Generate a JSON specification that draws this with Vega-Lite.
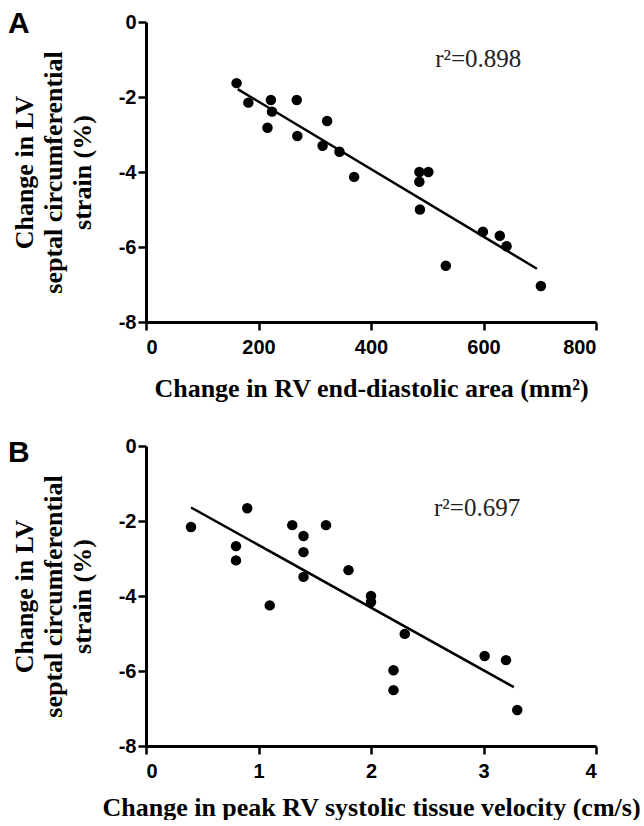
{
  "$schema": "https://vega.github.io/schema/vega-lite/v6.json",
  "background": "white",
  "padding": {"left": 8, "top": 9, "right": 0, "bottom": 0},
  "bounds": "flush",
  "spacing": 124,
  "config": {
    "view": {"stroke": null},
    "axis": {
      "grid": false,
      "domainColor": "black",
      "domainWidth": 3,
      "tickColor": "black",
      "tickWidth": 2.5,
      "tickSize": 8,
      "labelFont": "Liberation Sans",
      "labelFontWeight": "bold",
      "labelFontSize": 20,
      "labelColor": "black",
      "titleFont": "Liberation Serif",
      "titleFontWeight": "bold",
      "titleFontSize": 26,
      "titleColor": "black"
    }
  },
  "datasets": {
    "ptsA": [
      {"x": 161, "y": -1.63}, {"x": 182, "y": -2.15}, {"x": 216, "y": -2.82}, {"x": 222, "y": -2.08},
      {"x": 224, "y": -2.39}, {"x": 268, "y": -2.08}, {"x": 269, "y": -3.04}, {"x": 314, "y": -3.3},
      {"x": 322, "y": -2.64}, {"x": 344, "y": -3.46}, {"x": 370, "y": -4.13}, {"x": 486, "y": -4.0},
      {"x": 502, "y": -4.0}, {"x": 486, "y": -4.26}, {"x": 487, "y": -5.0}, {"x": 533, "y": -6.5},
      {"x": 599, "y": -5.59}, {"x": 629, "y": -5.7}, {"x": 641, "y": -5.98}, {"x": 702, "y": -7.04}
    ],
    "fitA": [{"x": 163, "y": -1.79}, {"x": 695, "y": -6.58}],
    "labA": [{"x": 514, "y": -1.19, "label": "r²=0.898"}],
    "ptsB": [
      {"x": 0.4, "y": -2.16}, {"x": 0.9, "y": -1.66}, {"x": 0.8, "y": -2.67}, {"x": 0.8, "y": -3.05},
      {"x": 1.1, "y": -4.25}, {"x": 1.3, "y": -2.11}, {"x": 1.4, "y": -2.4}, {"x": 1.4, "y": -2.83},
      {"x": 1.4, "y": -3.49}, {"x": 1.6, "y": -2.11}, {"x": 1.8, "y": -3.31}, {"x": 2.0, "y": -4.0},
      {"x": 2.0, "y": -4.16}, {"x": 2.3, "y": -5.01}, {"x": 2.2, "y": -5.98}, {"x": 2.2, "y": -6.51},
      {"x": 3.01, "y": -5.6}, {"x": 3.2, "y": -5.71}, {"x": 3.3, "y": -7.04}
    ],
    "fitB": [{"x": 0.4, "y": -1.64}, {"x": 3.27, "y": -6.43}],
    "labB": [{"x": 2.56, "y": -1.87, "label": "r²=0.697"}]
  },
  "vconcat": [
    {
      "width": 450,
      "height": 300,
      "title": {"text": "A", "anchor": "start", "frame": "group", "dx": -138, "offset": -51, "baseline": "alphabetic", "font": "Liberation Sans", "fontSize": 30, "fontWeight": "bold", "color": "black"},
      "layer": [
        {
          "data": {"name": "ptsA"},
          "mark": {"type": "circle", "size": 110, "color": "black", "opacity": 1},
          "encoding": {
            "x": {"field": "x", "type": "quantitative", "scale": {"domain": [0, 800], "nice": false},
                  "axis": {"values": [0, 200, 400, 600, 800], "title": "Change in RV end-diastolic area (mm²)", "labelPadding": 7, "titlePadding": 18}},
            "y": {"field": "y", "type": "quantitative", "scale": {"domain": [-8, 0], "nice": false},
                  "axis": {"values": [-8, -6, -4, -2, 0], "labelExpr": "datum.value == 0 ? '0' : '-' + abs(datum.value)", "title": ["Change in LV", "septal circumferential", "strain (%)"], "labelPadding": 2, "titlePadding": 23, "titleLineHeight": 29}}
          }
        },
        {
          "data": {"name": "fitA"},
          "mark": {"type": "line", "color": "black", "strokeWidth": 2.5},
          "encoding": {"x": {"field": "x", "type": "quantitative"}, "y": {"field": "y", "type": "quantitative"}}
        },
        {
          "data": {"name": "labA"},
          "mark": {"type": "text", "align": "left", "baseline": "alphabetic", "font": "Liberation Serif", "fontSize": 25, "color": "#222"},
          "encoding": {"x": {"field": "x", "type": "quantitative"}, "y": {"field": "y", "type": "quantitative"}, "text": {"field": "label"}}
        }
      ]
    },
    {
      "width": 450,
      "height": 300,
      "title": {"text": "B", "anchor": "start", "frame": "group", "dx": -138, "offset": -56, "baseline": "alphabetic", "font": "Liberation Sans", "fontSize": 30, "fontWeight": "bold", "color": "black"},
      "layer": [
        {
          "data": {"name": "ptsB"},
          "mark": {"type": "circle", "size": 110, "color": "black", "opacity": 1},
          "encoding": {
            "x": {"field": "x", "type": "quantitative", "scale": {"domain": [0, 4], "nice": false},
                  "axis": {"values": [0, 1, 2, 3, 4], "format": "d", "title": "Change in peak RV systolic tissue velocity (cm/s)", "labelPadding": 7, "titlePadding": 13}},
            "y": {"field": "y", "type": "quantitative", "scale": {"domain": [-8, 0], "nice": false},
                  "axis": {"values": [-8, -6, -4, -2, 0], "labelExpr": "datum.value == 0 ? '0' : '-' + abs(datum.value)", "title": ["Change in LV", "septal circumferential", "strain (%)"], "labelPadding": 2, "titlePadding": 23, "titleLineHeight": 29}}
          }
        },
        {
          "data": {"name": "fitB"},
          "mark": {"type": "line", "color": "black", "strokeWidth": 2.5},
          "encoding": {"x": {"field": "x", "type": "quantitative"}, "y": {"field": "y", "type": "quantitative"}}
        },
        {
          "data": {"name": "labB"},
          "mark": {"type": "text", "align": "left", "baseline": "alphabetic", "font": "Liberation Serif", "fontSize": 25, "color": "#222"},
          "encoding": {"x": {"field": "x", "type": "quantitative"}, "y": {"field": "y", "type": "quantitative"}, "text": {"field": "label"}}
        }
      ]
    }
  ]
}
